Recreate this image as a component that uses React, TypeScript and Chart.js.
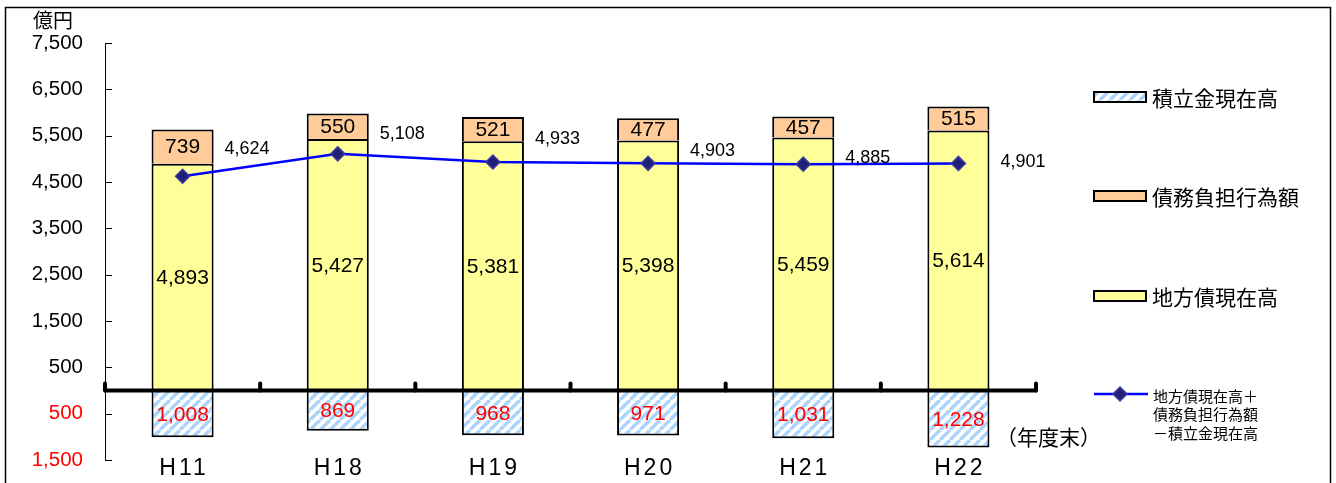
import React, { useEffect, useRef } from "react";
import { Chart, registerables } from "chart.js";

Chart.register(...registerables);

const categories = ["H11", "H18", "H19", "H20", "H21", "H22"];
const chihousaiGenzaidaka = [4893, 5427, 5381, 5398, 5459, 5614];
const saimuFutanKouiGaku = [739, 550, 521, 477, 457, 515];
const tsumitateKinGenzaidaka = [1008, 869, 968, 971, 1031, 1228];
const netDebt = [4624, 5108, 4933, 4903, 4885, 4901];
const yTickValues = [-1500, -500, 500, 1500, 2500, 3500, 4500, 5500, 6500, 7500];

const legendLabels = ["積立金現在高", "債務負担行為額", "地方債現在高"];
const lineLegendLines = ["地方債現在高＋", "債務負担行為額", "－積立金現在高"];
const unitLabel = "億円";
const yearEndLabel = "（年度末）";

const NUM_FONT = "'Liberation Sans', Arial, sans-serif";
const JP_FONT = "'Noto Sans CJK JP', sans-serif";

const fmt = (v: number) => Math.abs(v).toLocaleString("en-US");

function makeHatch(): CanvasPattern | string {
  const c = document.createElement("canvas");
  const s = 10;
  c.width = s;
  c.height = s;
  const g = c.getContext("2d");
  if (!g) return "#cfe6ff";
  g.fillStyle = "#ffffff";
  g.fillRect(0, 0, s, s);
  g.strokeStyle = "#aad4fc";
  g.lineWidth = 3.4;
  for (let k = -1; k <= 2; k++) {
    g.beginPath();
    g.moveTo(k * s - s, s);
    g.lineTo(k * s, 0);
    g.stroke();
  }
  const p = g.createPattern(c, "repeat");
  return p || "#cfe6ff";
}

export default function App() {
  const ref = useRef<HTMLCanvasElement | null>(null);

  useEffect(() => {
    const canvas = ref.current;
    if (!canvas) return;
    const hatch = makeHatch();
    const lineLabelRise = [27, 20, 23, 12, 6, 1];

    const customPlugin = {
      id: "custom",
      beforeDraw(chart: any) {
        const { ctx, width, height } = chart;
        ctx.save();
        ctx.fillStyle = "#ffffff";
        ctx.fillRect(0, 0, width, height);
        ctx.restore();
      },
      afterDatasetsDraw(chart: any) {
        const { ctx, chartArea, scales } = chart;
        const x = scales.x;
        const y = scales.y;
        ctx.save();

        // inward y ticks
        ctx.strokeStyle = "#000";
        ctx.lineWidth = 1;
        for (const v of yTickValues) {
          const py = Math.round(y.getPixelForValue(v)) + 0.5;
          ctx.beginPath();
          ctx.moveTo(chartArea.left, py);
          ctx.lineTo(chartArea.left + 7, py);
          ctx.stroke();
        }

        // thick zero line with category boundary bumps
        const y0 = y.getPixelForValue(0);
        ctx.lineWidth = 4;
        ctx.lineCap = "butt";
        ctx.beginPath();
        ctx.moveTo(chartArea.left - 1, y0);
        ctx.lineTo(chartArea.right + 1, y0);
        ctx.stroke();
        ctx.lineCap = "round";
        const n = categories.length;
        for (let i = 0; i <= n; i++) {
          const bx = chartArea.left + (i * (chartArea.right - chartArea.left)) / n;
          ctx.beginPath();
          ctx.moveTo(bx, y0);
          ctx.lineTo(bx, y0 - 7);
          ctx.stroke();
        }

        // bar labels
        ctx.textAlign = "center";
        ctx.textBaseline = "middle";
        ctx.font = `21px ${NUM_FONT}`;
        const labelSets = [
          { ds: 0, values: chihousaiGenzaidaka, color: "#000" },
          { ds: 1, values: saimuFutanKouiGaku, color: "#000" },
          { ds: 2, values: tsumitateKinGenzaidaka, color: "#ff0000" },
        ];
        for (const set of labelSets) {
          const meta = chart.getDatasetMeta(set.ds);
          ctx.fillStyle = set.color;
          meta.data.forEach((el: any, j: number) => {
            const cy = (el.y + el.base) / 2;
            ctx.fillText(fmt(set.values[j]), el.x, cy + 1);
          });
        }

        // line labels
        const lineMeta = chart.getDatasetMeta(3);
        ctx.textAlign = "left";
        ctx.fillStyle = "#000";
        ctx.font = `18px ${NUM_FONT}`;
        lineMeta.data.forEach((el: any, j: number) => {
          ctx.fillText(fmt(netDebt[j]), el.x + 42, el.y - lineLabelRise[j]);
        });

        // category labels
        ctx.textAlign = "center";
        ctx.font = `23px ${NUM_FONT}`;
        (ctx as any).letterSpacing = "3px";
        categories.forEach((c, i) => {
          const px = x.getPixelForValue(i);
          ctx.fillText(c, px + 1.5, 469);
        });
        (ctx as any).letterSpacing = "0px";

        // unit label
        ctx.textAlign = "left";
        ctx.font = `20px ${JP_FONT}`;
        ctx.fillText(unitLabel, 33, 20);

        // year end label
        ctx.font = `21px ${JP_FONT}`;
        ctx.fillText(yearEndLabel, 996, 437);

        // legend
        const legendYs = [97, 196, 296];
        const fills = [hatch, "#ffcc99", "#ffff99"];
        legendLabels.forEach((t, i) => {
          const ly = legendYs[i];
          ctx.fillStyle = fills[i] as any;
          ctx.fillRect(1094, ly - 5, 52, 10);
          ctx.strokeStyle = "#000";
          ctx.lineWidth = 2;
          ctx.strokeRect(1094, ly - 5, 52, 10);
          ctx.fillStyle = "#000";
          ctx.font = `21px ${JP_FONT}`;
          ctx.textBaseline = "middle";
          ctx.fillText(t, 1152, ly + 1);
        });

        // line legend
        const lly = 394;
        ctx.strokeStyle = "#0000ff";
        ctx.lineWidth = 2.5;
        ctx.lineCap = "butt";
        ctx.beginPath();
        ctx.moveTo(1094, lly);
        ctx.lineTo(1148, lly);
        ctx.stroke();
        ctx.fillStyle = "#1f1f7a";
        ctx.strokeStyle = "#3a3aa0";
        ctx.lineWidth = 1.5;
        ctx.beginPath();
        ctx.moveTo(1120, lly - 7);
        ctx.lineTo(1127, lly);
        ctx.lineTo(1120, lly + 7);
        ctx.lineTo(1113, lly);
        ctx.closePath();
        ctx.fill();
        ctx.stroke();
        ctx.fillStyle = "#000";
        ctx.font = `15px ${JP_FONT}`;
        lineLegendLines.forEach((t, i) => {
          ctx.fillText(t, 1153, 396 + i * 18.5);
        });

        // frame
        ctx.strokeStyle = "#000";
        ctx.lineWidth = 1.5;
        ctx.strokeRect(5.5, 7.5, 1325, 520);

        ctx.restore();
      },
    };

    const chart = new Chart(canvas, {
      type: "bar",
      data: {
        labels: categories,
        datasets: [
          {
            type: "bar",
            label: legendLabels[2],
            data: chihousaiGenzaidaka,
            backgroundColor: "#ffff99",
            borderColor: "#000",
            borderWidth: 2,
            stack: "bars",
            order: 1,
            barPercentage: 0.4,
            categoryPercentage: 1,
          },
          {
            type: "bar",
            label: legendLabels[1],
            data: saimuFutanKouiGaku,
            backgroundColor: "#ffcc99",
            borderColor: "#000",
            borderWidth: 2,
            stack: "bars",
            order: 1,
            barPercentage: 0.4,
            categoryPercentage: 1,
          },
          {
            type: "bar",
            label: legendLabels[0],
            data: tsumitateKinGenzaidaka.map((v) => -v),
            backgroundColor: hatch as any,
            borderColor: "#000",
            borderWidth: 2,
            stack: "bars",
            order: 1,
            barPercentage: 0.4,
            categoryPercentage: 1,
          },
          {
            type: "line",
            label: "net",
            data: netDebt,
            borderColor: "#0000ff",
            borderWidth: 2.5,
            pointStyle: "rectRot",
            pointRadius: 7,
            pointBackgroundColor: "#1f1f7a",
            pointBorderColor: "#3a3aa0",
            pointBorderWidth: 1.5,
            tension: 0,
            stack: "line",
            order: 0,
          } as any,
        ],
      },
      options: {
        responsive: false,
        animation: false,
        devicePixelRatio: 1,
        layout: { padding: { left: 0, right: 300, top: 43, bottom: 23 } },
        plugins: { legend: { display: false }, tooltip: { enabled: false } },
        scales: {
          x: {
            display: false,
            stacked: true,
          },
          y: {
            stacked: true,
            min: -1500,
            max: 7500,
            afterBuildTicks: (s: any) => {
              s.ticks = yTickValues.map((v) => ({ value: v }));
            },
            grid: { display: false, drawTicks: false },
            border: { display: true, color: "#000", width: 1 },
            ticks: {
              padding: 22,
              font: { family: NUM_FONT, size: 20.5 },
              color: (ctx: any) => (ctx.tick && ctx.tick.value < 0 ? "#ff0000" : "#000"),
              callback: (v: any) => fmt(Number(v)),
            },
            afterFit: (s: any) => {
              s.width = 105;
              s.paddingTop = 0;
              s.paddingBottom = 0;
            },
          },
        },
      } as any,
      plugins: [customPlugin],
    });

    return () => chart.destroy();
  }, []);

  return (
    <div style={{ position: "absolute", left: 0, top: 0, width: 1336, height: 483, background: "#fff" }}>
      <canvas ref={ref} width={1336} height={483} style={{ display: "block" }} />
    </div>
  );
}
